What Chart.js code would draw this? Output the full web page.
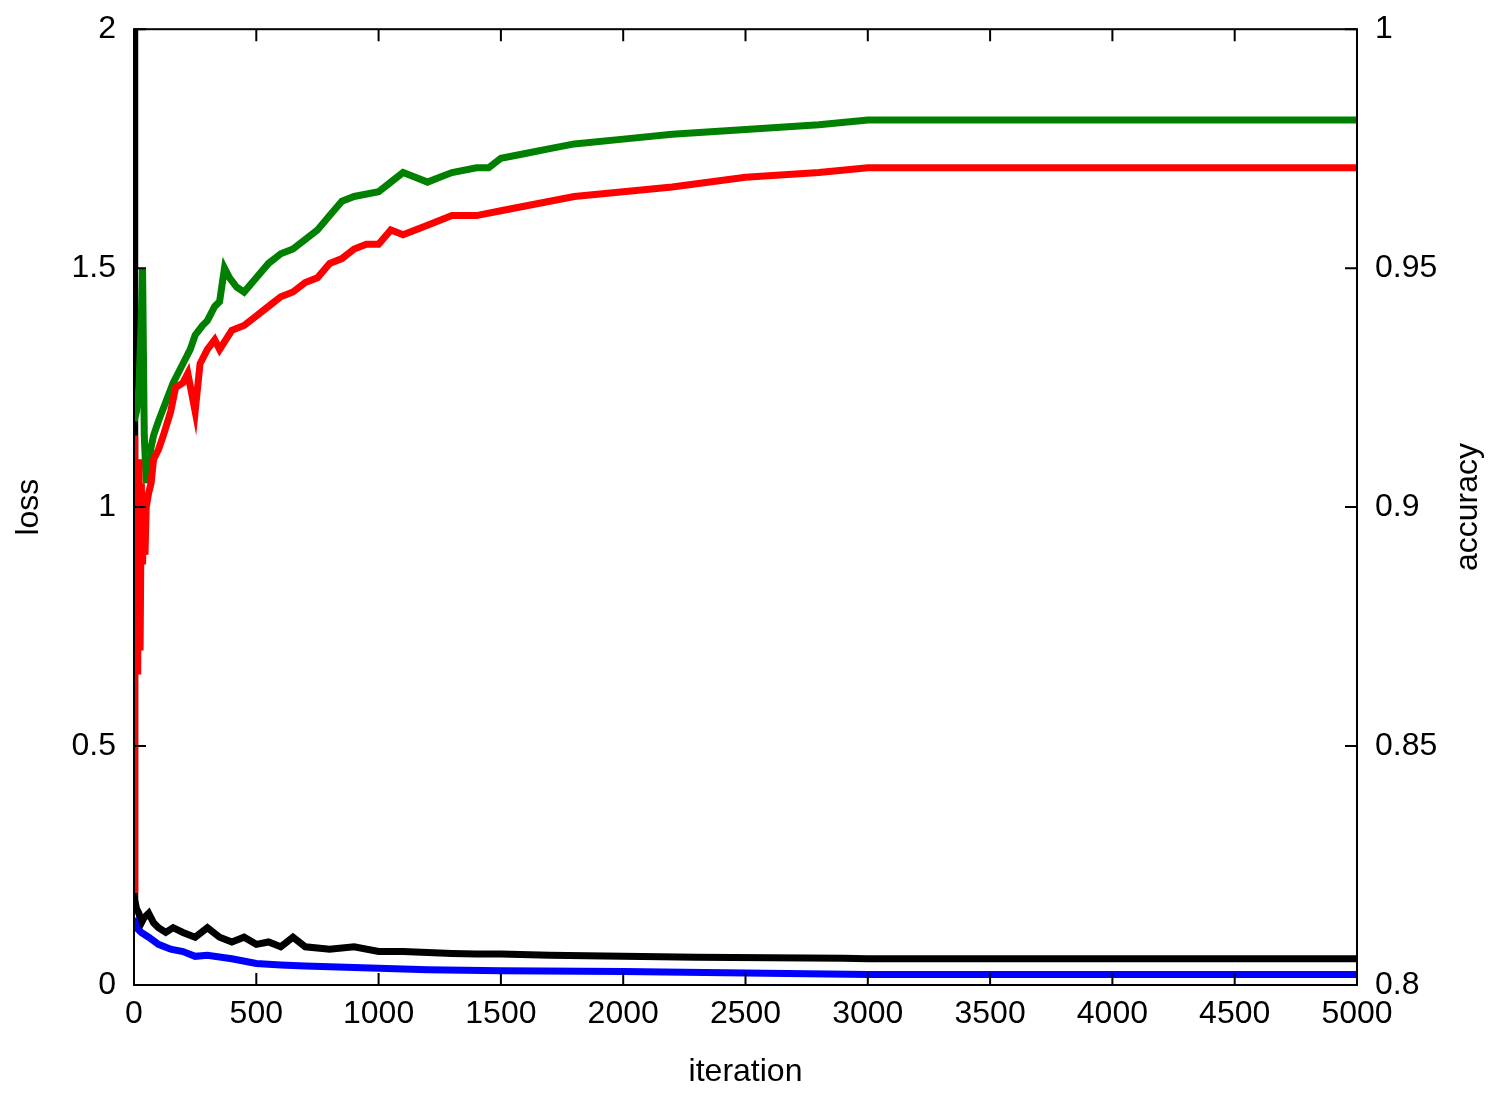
<!DOCTYPE html>
<html><head><meta charset="utf-8">
<script src="https://cdn.jsdelivr.net/npm/chart.js@4"></script>
<style>html,body{margin:0;padding:0;background:#fff}</style>
</head><body>
<canvas id="c" width="1501" height="1095" style="width:1501px;height:1095px"></canvas>
<script>
const lossTicks=[0,0.5,1,1.5,2];
const accTicks=[0.8,0.85,0.9,0.95,1];
const xTicks=[0,500,1000,1500,2000,2500,3000,3500,4000,4500,5000];
// train loss (black)
const blackIt=[0,3,6,10,20,30,40,60,80,100,130,160,200,250,300,350,400,450,500,550,600,650,700,800,900,1000,1100,1200,1300,1400,1500,1700,2000,2300,2600,2900,3000,3500,4000,5000];
const blackVal=[2.0,0.18,0.17,0.16,0.15,0.13,0.14,0.15,0.13,0.12,0.11,0.12,0.11,0.10,0.12,0.10,0.09,0.10,0.085,0.09,0.08,0.1,0.08,0.075,0.08,0.07,0.07,0.068,0.066,0.065,0.065,0.062,0.06,0.058,0.057,0.056,0.055,0.055,0.055,0.055];
// test loss (blue)
const blueIt=[0,10,30,60,100,150,200,250,300,400,500,600,700,800,1000,1200,1500,2000,2500,3000,4000,5000];
const blueVal=[0.14,0.12,0.11,0.1,0.085,0.075,0.07,0.06,0.062,0.055,0.045,0.042,0.04,0.038,0.035,0.032,0.03,0.028,0.025,0.022,0.022,0.022];
// accuracy series (green / red)
const greenIt=[0,10,20,30,35,42,50,60,80,100,130,160,200,230,250,280,300,330,350,370,390,420,450,500,550,600,650,700,750,800,850,900,1000,1050,1100,1150,1200,1250,1300,1400,1450,1500,1600,1700,1800,2000,2200,2500,2800,3000,3500,4000,4500,5000];
const greenVal=[0.918,0.92,0.925,0.94,0.95,0.915,0.905,0.91,0.915,0.918,0.922,0.926,0.93,0.933,0.936,0.938,0.939,0.942,0.943,0.95,0.948,0.946,0.945,0.948,0.951,0.953,0.954,0.956,0.958,0.961,0.964,0.965,0.966,0.968,0.97,0.969,0.968,0.969,0.97,0.971,0.971,0.973,0.974,0.975,0.976,0.977,0.978,0.979,0.98,0.981,0.981,0.981,0.981,0.981];
const redIt=[0,3,6,10,15,20,25,30,35,40,45,50,60,70,80,100,120,150,170,200,220,250,270,300,330,350,400,450,500,550,600,650,700,750,800,850,900,950,1000,1050,1100,1200,1300,1400,1500,1600,1700,1800,2000,2200,2500,2800,3000,3500,4000,4500,5000];
const redVal=[0.82,0.915,0.87,0.9,0.865,0.91,0.87,0.905,0.888,0.9,0.89,0.9,0.903,0.905,0.91,0.912,0.915,0.92,0.925,0.926,0.928,0.92,0.93,0.933,0.935,0.933,0.937,0.938,0.94,0.942,0.944,0.945,0.947,0.948,0.951,0.952,0.954,0.955,0.955,0.958,0.957,0.959,0.961,0.961,0.962,0.963,0.964,0.965,0.966,0.967,0.969,0.97,0.971,0.971,0.971,0.971,0.971];

const pts=(xs,ys)=>xs.map((x,i)=>({x:x,y:ys[i]}));
const FONT='"Liberation Sans", Arial, sans-serif';
const FS=32;
const frame={id:'frame',afterDatasetsDraw(ch){
  const c=ch.ctx,a=ch.chartArea,x=ch.scales.x,y=ch.scales.y,y1=ch.scales.y1;
  c.save();c.strokeStyle='#000';c.lineWidth=2;
  c.strokeRect(a.left,a.top,a.right-a.left,a.bottom-a.top);
  c.beginPath();
  xTicks.forEach(v=>{const p=x.getPixelForValue(v);c.moveTo(p,a.bottom);c.lineTo(p,a.bottom-12);c.moveTo(p,a.top);c.lineTo(p,a.top+12);});
  lossTicks.forEach(v=>{const p=y.getPixelForValue(v);c.moveTo(a.left,p);c.lineTo(a.left+12,p);});
  accTicks.forEach(v=>{const p=y1.getPixelForValue(v);c.moveTo(a.right,p);c.lineTo(a.right-12,p);});
  c.stroke();
  c.fillStyle='#000';c.font=FS+'px '+FONT;c.textAlign='center';c.textBaseline='middle';
  c.translate(1468,(a.top+a.bottom)/2);c.rotate(-Math.PI/2);c.fillText('accuracy',0,0);
  c.restore();}};
const ds=(lab,d,col,ax)=>({label:lab,data:d,borderColor:col,backgroundColor:col,borderWidth:7,pointRadius:0,tension:0,yAxisID:ax});
new Chart(document.getElementById('c'),{type:'line',
 data:{datasets:[
  ds('red',pts(redIt,redVal),'#ff0000','y1'),
  ds('green',pts(greenIt,greenVal),'#008000','y1'),
  ds('blue',pts(blueIt,blueVal),'#0000ff','y'),
  ds('black',pts(blackIt,blackVal),'#000000','y')]},
 options:{responsive:false,animation:false,devicePixelRatio:1,
  layout:{padding:{top:27,right:0,left:0,bottom:0}},
  plugins:{legend:{display:false},tooltip:{enabled:false}},
  scales:{
   x:{type:'linear',min:0,max:5000,afterBuildTicks:s=>{s.ticks=xTicks.map(v=>({value:v}))},
      grid:{display:false},border:{display:false},
      ticks:{color:'#000',font:{family:FONT,size:FS},padding:2,maxRotation:0,callback:v=>String(v)},
      title:{display:true,text:'iteration',color:'#000',font:{family:FONT,size:FS},padding:{top:4}},
      afterFit:s=>{s.height=110}},
   y:{position:'left',min:0,max:2,afterBuildTicks:s=>{s.ticks=lossTicks.map(v=>({value:v}))},
      grid:{display:false},border:{display:false},
      ticks:{color:'#000',font:{family:FONT,size:FS},padding:10,callback:v=>String(v)},
      title:{display:true,text:'loss',color:'#000',font:{family:FONT,size:FS},padding:{bottom:0,top:10}},
      afterFit:s=>{s.width=134}},
   y1:{position:'right',min:0.8,max:1,afterBuildTicks:s=>{s.ticks=accTicks.map(v=>({value:v}))},
      grid:{display:false},border:{display:false},
      ticks:{color:'#000',font:{family:FONT,size:FS},padding:10,callback:v=>String(+v.toFixed(2))},
      afterFit:s=>{s.width=144}}
  }},
 plugins:[frame]});
</script></body></html>
